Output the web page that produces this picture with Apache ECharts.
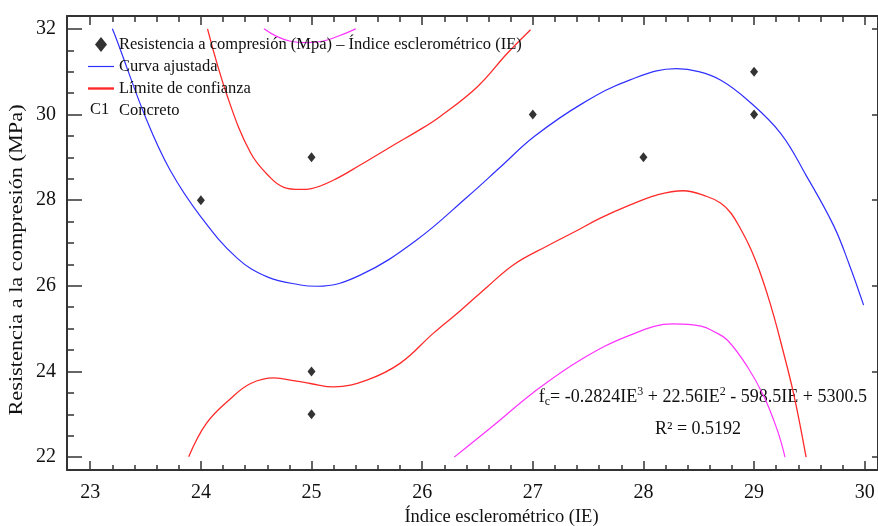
<!DOCTYPE html>
<html><head><meta charset="utf-8">
<script src="https://cdn.jsdelivr.net/npm/echarts@6/dist/echarts.min.js"></script>
<style>html,body{margin:0;padding:0;background:#fff}#c{width:878px;height:526px}</style>
</head><body><div id="c"></div>
<script>
// ---- tick labels ----
const xTickLabels = [23, 24, 25, 26, 27, 28, 29, 30];
const yTickLabels = [22, 24, 26, 28, 30, 32];

// ---- observed points ----
const obsIE = [24, 25, 25, 25, 27, 28, 29, 29];
const obsFc = [28, 29, 24, 23, 30, 29, 31, 30];

// ---- fitted curve ----
const fitIE = [23.20, 23.24, 23.51, 23.72, 24.00, 24.33, 24.60, 24.90, 25.05, 25.44, 25.95, 26.41, 26.71, 27.01, 27.45, 27.88, 28.30, 28.50, 28.70, 28.94, 29.24, 29.47, 29.72, 29.86, 29.99];
const fitFc = [32.00, 31.74, 29.87, 28.71, 27.61, 26.64, 26.21, 26.02, 25.99, 26.25, 27.07, 28.08, 28.78, 29.48, 30.26, 30.81, 31.07, 31.00, 30.80, 30.34, 29.56, 28.58, 27.40, 26.50, 25.55];

// ---- confidence limits (red) ----
const confUpIE = [24.06, 24.24, 24.45, 24.63, 24.75, 24.90, 25.00, 25.20, 25.44, 25.77, 25.95, 26.16, 26.50, 26.77, 26.98];
const confUpFc = [32.00, 30.42, 29.10, 28.52, 28.30, 28.25, 28.27, 28.47, 28.82, 29.33, 29.60, 29.95, 30.65, 31.43, 31.98];
const confLoIE = [23.89, 24.05, 24.27, 24.45, 24.66, 24.85, 24.99, 25.20, 25.50, 25.80, 26.10, 26.35, 26.59, 26.83, 27.13, 27.37, 27.61, 27.88, 28.12, 28.36, 28.58, 28.70, 28.79, 28.88, 28.97, 29.05, 29.12, 29.18, 29.24, 29.36, 29.47];
const confLoFc = [22.01, 22.79, 23.37, 23.72, 23.85, 23.78, 23.72, 23.64, 23.80, 24.19, 24.89, 25.43, 25.98, 26.50, 26.93, 27.25, 27.58, 27.89, 28.12, 28.22, 28.08, 27.93, 27.70, 27.32, 26.86, 26.34, 25.80, 25.28, 24.70, 23.45, 22.00];

// ---- prediction limits (magenta) ----
const predUpIE = [24.57, 24.68, 24.81, 24.95, 25.10, 25.25, 25.40];
const predUpFc = [32.00, 31.83, 31.71, 31.68, 31.71, 31.84, 32.00];
const predLoIE = [26.29, 26.65, 27.00, 27.43, 27.88, 28.27, 28.52, 28.64, 28.76, 28.94, 29.09, 29.21, 29.28];
const predLoFc = [22.00, 22.75, 23.50, 24.27, 24.85, 25.11, 25.06, 24.93, 24.73, 24.11, 23.41, 22.63, 22.00];

const scatterName = 'Resistencia a compresión (Mpa) – Índice esclerométrico (IE)';
const FONT = "'Liberation Serif', 'Times New Roman', serif";
const X_MIN = 22.79, X_MAX = 30.12, Y_MIN = 21.7, Y_MAX = 32.3;
const BLUE = '#2f2fff', RED = '#ff2a2a', MAGENTA = '#ff33ff';

function pairs(a, b) { return a.map((v, i) => [v, b[i]]); }
function minors(majors, n) {
  const out = [];
  for (let i = 0; i < majors.length - 1; i++) {
    const step = (majors[i + 1] - majors[i]) / n;
    for (let k = 1; k < n; k++) out.push(+(majors[i] + k * step).toFixed(4));
  }
  return out;
}
const AX = '#333';
function xAx(pos, ticks, len, withLabels, lineShow, extra) {
  return Object.assign({
    type: 'value', position: pos, min: X_MIN, max: X_MAX,
    axisLine: { show: lineShow, onZero: false, lineStyle: { color: AX, width: 2 } },
    axisTick: { show: true, inside: true, length: len, customValues: ticks, lineStyle: { color: AX, width: 1.5 } },
    axisLabel: withLabels ? { show: true, customValues: xTickLabels, fontFamily: FONT, fontSize: 20, color: '#111', margin: 13 } : { show: false },
    splitLine: { show: false }
  }, extra || {});
}
function yAx(pos, ticks, len, withLabels, lineShow, extra) {
  return Object.assign({
    type: 'value', position: pos, min: Y_MIN, max: Y_MAX,
    axisLine: { show: lineShow, onZero: false, lineStyle: { color: AX, width: 2 } },
    axisTick: { show: true, inside: true, length: len, customValues: ticks, lineStyle: { color: AX, width: 1.5 } },
    axisLabel: withLabels ? { show: true, customValues: yTickLabels, fontFamily: FONT, fontSize: 20, color: '#111', margin: 11 } : { show: false },
    splitLine: { show: false }
  }, extra || {});
}

const chart = echarts.init(document.getElementById('c'), null, { renderer: 'canvas' });
const lineBase = { type: 'line', smooth: 0.4, symbol: 'none', xAxisIndex: 0, yAxisIndex: 0, z: 2 };
chart.setOption({
  animation: false,
  backgroundColor: '#fff',
  grid: { left: 67, top: 16, right: 0, bottom: 56, containLabel: false, outerBoundsMode: 'none' },
  xAxis: [
    xAx('bottom', xTickLabels, 9, true, true, {
      name: 'Índice esclerométrico (IE)', nameLocation: 'middle', nameGap: 38,
      nameTextStyle: { fontFamily: FONT, fontSize: 18.5, color: '#111', padding: [0, 0, 0, 58] }
    }),
    xAx('bottom', minors(xTickLabels, 5), 5, false, false),
    xAx('top', xTickLabels, 9, false, true),
    xAx('top', minors(xTickLabels, 5), 6, false, false)
  ],
  yAxis: [
    yAx('left', yTickLabels, 15, true, true),
    yAx('left', minors(yTickLabels, 4), 7, false, false),
    yAx('right', yTickLabels, 6, false, true)
  ],
  legend: {
    orient: 'vertical', left: 87, top: 36, padding: 0, itemWidth: 26, itemHeight: 15, itemGap: 5,
    selectedMode: false,
    textStyle: { fontFamily: FONT, fontSize: 16.5, color: '#111' },
    data: [
      { name: scatterName, icon: 'path://M6,0 L12,7.5 L6,15 L0,7.5 Z', itemStyle: { color: '#000' } },
      { name: 'Curva ajustada', icon: 'path://M0,0H28V1.3H0Z', itemStyle: { color: BLUE } },
      { name: 'Límite de confianza', icon: 'path://M0,0H24V2.2H0Z', itemStyle: { color: RED } },
      { name: 'Concreto' }
    ]
  },
  series: [
    Object.assign({}, lineBase, { name: 'Límite de predicción', data: pairs(predUpIE, predUpFc), itemStyle: { color: MAGENTA }, lineStyle: { color: MAGENTA, width: 1.2 } }),
    Object.assign({}, lineBase, { name: 'Límite de predicción', data: pairs(predLoIE, predLoFc), itemStyle: { color: MAGENTA }, lineStyle: { color: MAGENTA, width: 1.2 } }),
    Object.assign({}, lineBase, { name: 'Límite de confianza', data: pairs(confUpIE, confUpFc), itemStyle: { color: RED }, lineStyle: { color: RED, width: 1.3 } }),
    Object.assign({}, lineBase, { name: 'Límite de confianza', data: pairs(confLoIE, confLoFc), itemStyle: { color: RED }, lineStyle: { color: RED, width: 1.3 } }),
    Object.assign({}, lineBase, { name: 'Curva ajustada', data: pairs(fitIE, fitFc), itemStyle: { color: BLUE }, lineStyle: { color: BLUE, width: 1.2 } }),
    { name: scatterName, type: 'scatter', symbol: 'diamond', symbolSize: [8, 10], itemStyle: { color: '#000' }, data: pairs(obsIE, obsFc), z: 5 },
    { name: 'Concreto', type: 'line', data: [], symbol: 'none', lineStyle: { opacity: 0 }, itemStyle: { opacity: 0 } }
  ],
  graphic: [
    { type: 'text', x: 17, y: 260, rotation: Math.PI / 2, scaleX: 1.24,
      style: { text: 'Resistencia a la compresión (MPa)', fontFamily: FONT, fontSize: 18, fill: '#111', align: 'center', verticalAlign: 'middle' } },
    { type: 'text', x: 90, y: 110, style: { text: 'C1', fontFamily: FONT, fontSize: 16.5, fill: '#111', verticalAlign: 'middle' } },
    { type: 'text', right: 11, top: 386, style: {
        text: '{i|f}{s|c}{i|= -0.2824IE}{p|3}{i| + 22.56IE}{p|2}{i| - 598.5IE + 5300.5}',
        rich: {
          i: { fontFamily: FONT, fontSize: 18, fill: '#111', lineHeight: 22 },
          s: { fontFamily: FONT, fontSize: 12, fill: '#111', lineHeight: 12, verticalAlign: 'bottom' },
          p: { fontFamily: FONT, fontSize: 12, fill: '#111', lineHeight: 12, verticalAlign: 'top' }
        }
      } },
    { type: 'text', x: 698, y: 429, style: { text: 'R² = 0.5192', fontFamily: FONT, fontSize: 18, fill: '#111', align: 'center', verticalAlign: 'middle' } }
  ]
});
</script>
</body></html>
